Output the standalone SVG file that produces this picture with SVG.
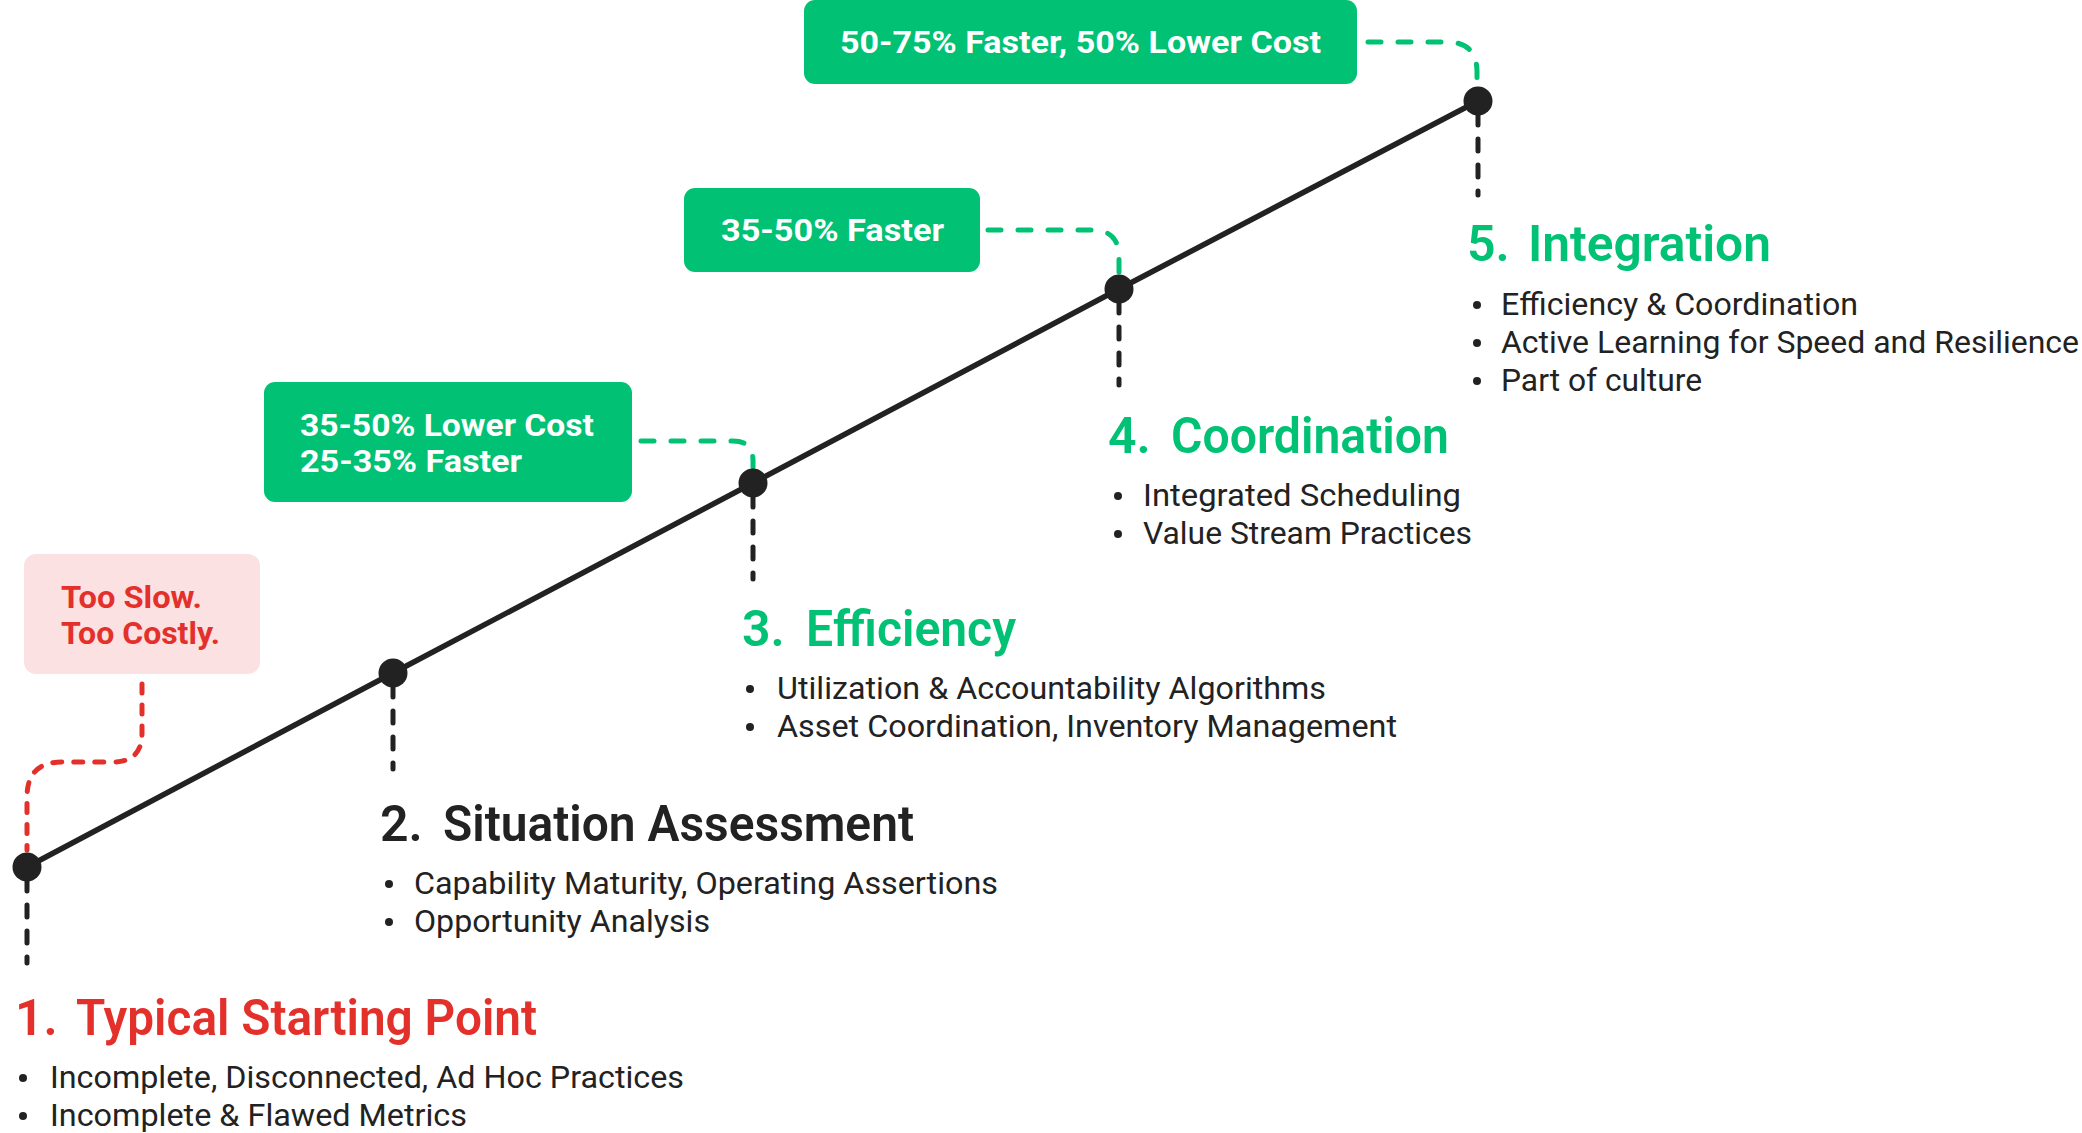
<svg xmlns="http://www.w3.org/2000/svg" width="2082" height="1133" viewBox="0 0 2082 1133">
<style>
.bg{fill:#ffffff}
.gbox{fill:#00c174}
.pbox{fill:#fbe1e1}
.btxt{font-family:Roboto,"Noto Sans",sans-serif;font-weight:700;font-size:31px;fill:#ffffff}
.rtxt{font-family:Roboto,"Noto Sans",sans-serif;font-weight:700;font-size:31px;fill:#e4302b}
.h{font-family:Roboto,"Noto Sans",sans-serif;font-weight:600;font-size:50px}
.hr{fill:#e4302b}.hg{fill:#00c174}.hk{fill:#222222}
.li{font-family:Roboto,"Noto Sans",sans-serif;font-weight:400;font-size:31px;fill:#222222}
.dot{fill:#222222}
.node{fill:#222222}
.main{fill:none;stroke:#222222;stroke-width:5.5;stroke-linejoin:round}
.vd{fill:none;stroke:#222222;stroke-width:5;stroke-linecap:round;stroke-dasharray:12 14}
.gd{fill:none;stroke:#00c174;stroke-width:5;stroke-linecap:round;stroke-dasharray:13 17}
.rd{fill:none;stroke:#e4302b;stroke-width:5;stroke-linecap:round;stroke-dasharray:9 12}
</style>
<rect class="bg" x="0" y="0" width="2082" height="1133"/>

<g id="connectors">
  <polyline class="main" points="27,867 393,673 753,483 1119,289 1478,101"/>
  <path class="vd" d="M27,879 V963"/>
  <path class="vd" d="M393,685 V769"/>
  <path class="vd" d="M753,495 V579"/>
  <path class="vd" d="M1119,301 V385"/>
  <path class="vd" d="M1478,113 V195"/>
  <path class="rd" d="M142,684 V733 Q142,762 113,762 H62 Q27,762 27,797 V850"/>
  <path class="gd" d="M641,441 H733 Q753,441 753,461 V467"/>
  <path class="gd" d="M988,230 H1092 Q1119,230 1119,257 V272"/>
  <path class="gd" d="M1368,42 H1447 Q1477,42 1477,72 V85"/>
</g>

<g id="note-too-slow">
  <rect class="pbox" x="24" y="554" width="236" height="120" rx="12"/>
  <text class="rtxt" x="61" y="608" textLength="141" lengthAdjust="spacingAndGlyphs">Too Slow.</text>
  <text class="rtxt" x="61" y="644" textLength="159" lengthAdjust="spacingAndGlyphs">Too Costly.</text>
</g>

<g id="badge-3">
  <rect class="gbox" x="264" y="382" width="368" height="120" rx="11"/>
  <text class="btxt" x="300" y="436" textLength="294" lengthAdjust="spacingAndGlyphs">35-50% Lower Cost</text>
  <text class="btxt" x="300" y="472" textLength="222" lengthAdjust="spacingAndGlyphs">25-35% Faster</text>
</g>

<g id="badge-4">
  <rect class="gbox" x="684" y="188" width="296" height="84" rx="11"/>
  <text class="btxt" x="721" y="241" textLength="223" lengthAdjust="spacingAndGlyphs">35-50% Faster</text>
</g>

<g id="badge-5">
  <rect class="gbox" x="804" y="0" width="553" height="84" rx="11"/>
  <text class="btxt" x="840" y="53" textLength="481" lengthAdjust="spacingAndGlyphs">50-75% Faster, 50% Lower Cost</text>
</g>

<g id="stage-1">
  <circle class="node" cx="27" cy="867" r="14.5"/>
  <text class="h hr" x="15" y="1035">1.</text>
  <text class="h hr" x="76" y="1035" textLength="461" lengthAdjust="spacingAndGlyphs">Typical Starting Point</text>
  <circle class="dot" cx="23" cy="1078" r="4"/>
  <text class="li" x="50" y="1088" textLength="634" lengthAdjust="spacingAndGlyphs">Incomplete, Disconnected, Ad Hoc Practices</text>
  <circle class="dot" cx="23" cy="1116" r="4"/>
  <text class="li" x="50" y="1126" textLength="417" lengthAdjust="spacingAndGlyphs">Incomplete &amp; Flawed Metrics</text>
</g>

<g id="stage-2">
  <circle class="node" cx="393" cy="673" r="14.5"/>
  <text class="h hk" x="380" y="841">2.</text>
  <text class="h hk" x="443" y="841" textLength="471" lengthAdjust="spacingAndGlyphs">Situation Assessment</text>
  <circle class="dot" cx="389" cy="884" r="4"/>
  <text class="li" x="414" y="894" textLength="584" lengthAdjust="spacingAndGlyphs">Capability Maturity, Operating Assertions</text>
  <circle class="dot" cx="389" cy="922" r="4"/>
  <text class="li" x="414" y="932" textLength="296" lengthAdjust="spacingAndGlyphs">Opportunity Analysis</text>
</g>

<g id="stage-3">
  <circle class="node" cx="753" cy="483" r="14.5"/>
  <text class="h hg" x="742" y="646">3.</text>
  <text class="h hg" x="806" y="646" textLength="210" lengthAdjust="spacingAndGlyphs">Efficiency</text>
  <circle class="dot" cx="750" cy="689" r="4"/>
  <text class="li" x="777" y="699" textLength="549" lengthAdjust="spacingAndGlyphs">Utilization &amp; Accountability Algorithms</text>
  <circle class="dot" cx="750" cy="727" r="4"/>
  <text class="li" x="777" y="737" textLength="620" lengthAdjust="spacingAndGlyphs">Asset Coordination, Inventory Management</text>
</g>

<g id="stage-4">
  <circle class="node" cx="1119" cy="289" r="14.5"/>
  <text class="h hg" x="1108" y="453">4.</text>
  <text class="h hg" x="1171" y="453" textLength="278" lengthAdjust="spacingAndGlyphs">Coordination</text>
  <circle class="dot" cx="1118" cy="496" r="4"/>
  <text class="li" x="1143" y="506" textLength="318" lengthAdjust="spacingAndGlyphs">Integrated Scheduling</text>
  <circle class="dot" cx="1118" cy="534" r="4"/>
  <text class="li" x="1143" y="544" textLength="329" lengthAdjust="spacingAndGlyphs">Value Stream Practices</text>
</g>

<g id="stage-5">
  <circle class="node" cx="1478" cy="101" r="14.5"/>
  <text class="h hg" x="1467" y="261">5.</text>
  <text class="h hg" x="1528" y="261" textLength="243" lengthAdjust="spacingAndGlyphs">Integration</text>
  <circle class="dot" cx="1477" cy="305" r="4"/>
  <text class="li" x="1501" y="315" textLength="357" lengthAdjust="spacingAndGlyphs">Efficiency &amp; Coordination</text>
  <circle class="dot" cx="1477" cy="343" r="4"/>
  <text class="li" x="1501" y="353" textLength="578" lengthAdjust="spacingAndGlyphs">Active Learning for Speed and Resilience</text>
  <circle class="dot" cx="1477" cy="381" r="4"/>
  <text class="li" x="1501" y="391" textLength="201" lengthAdjust="spacingAndGlyphs">Part of culture</text>
</g>
</svg>
